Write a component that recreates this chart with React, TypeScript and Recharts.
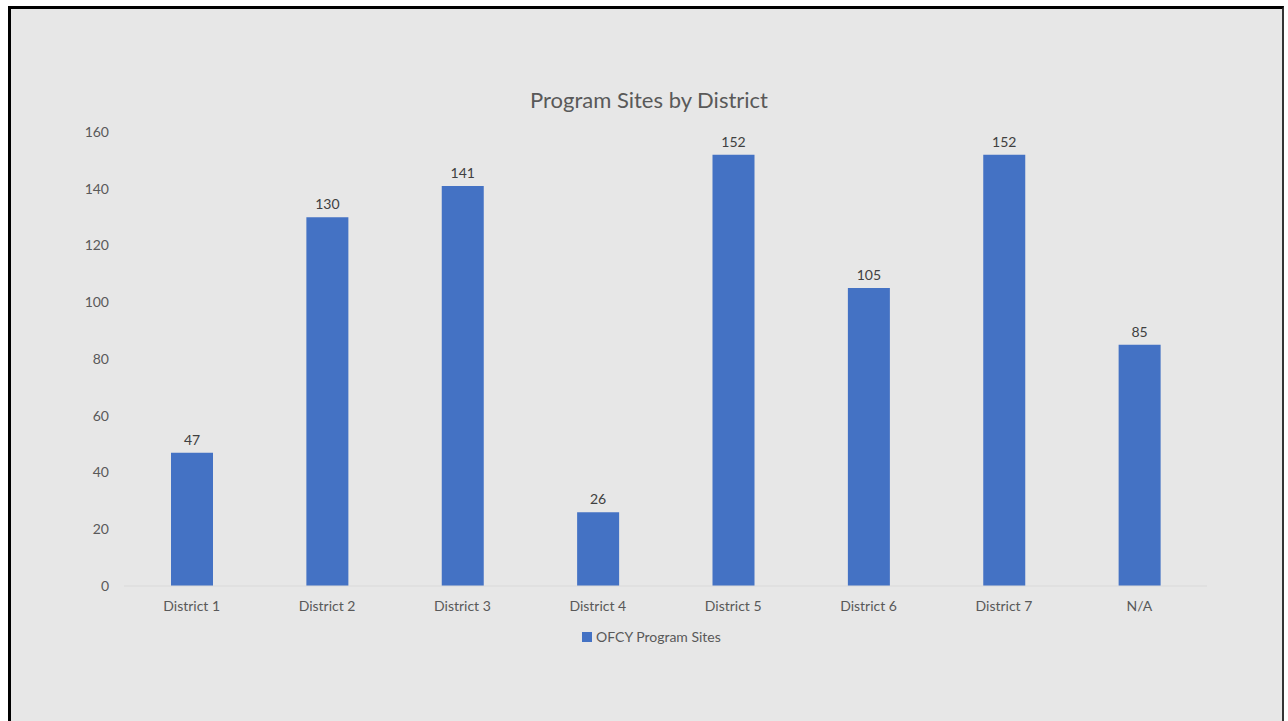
import React from "react";
import { BarChart, Bar, XAxis, YAxis, Legend, LabelList } from "recharts";

const categories = ["District 1", "District 2", "District 3", "District 4", "District 5", "District 6", "District 7", "N/A"];
const sites = [47, 130, 141, 26, 152, 105, 152, 85];
const yTicks = [0, 20, 40, 60, 80, 100, 120, 140, 160];

const data = categories.map((c, i) => ({ name: c, value: sites[i] }));

const FONT = "Lato, 'Open Sans', sans-serif";
const BLUE = "#4472C4";

const LegendContent = () => (
  <div style={{ display: "flex", alignItems: "center", fontFamily: FONT, fontSize: 14, color: "#595959" }}>
    <span style={{ display: "inline-block", width: 10, height: 10, background: BLUE, marginRight: 4 }} />
    <span>OFCY Program Sites</span>
  </div>
);

export default function App() {
  return (
    <div style={{ position: "absolute", left: 0, top: 0, width: 1288, height: 721, background: "#ffffff", overflow: "hidden" }}>
      <div
        style={{
          position: "absolute",
          left: 8,
          top: 6,
          width: 1276,
          height: 740,
          background: "#e7e7e7",
          borderLeft: "3px solid #000",
          borderTop: "3px solid #000",
          borderRight: "2px solid #333",
          boxSizing: "border-box",
        }}
      />
      <div
        style={{
          position: "absolute",
          left: 0,
          top: 86,
          width: 1298,
          textAlign: "center",
          fontFamily: FONT,
          fontSize: 22,
          color: "#595959",
        }}
      >
        Program Sites by District
      </div>
      <div style={{ position: "absolute", left: 0, top: 0 }}>
        <BarChart width={1288} height={721} data={data} margin={{ top: 132, right: 81, left: 64, bottom: 88 }}>
          <XAxis
            dataKey="name"
            tickLine={false}
            tickSize={0}
            tickMargin={15}
            axisLine={{ stroke: "#d9d9d9" }}
            tick={{ fill: "#595959", fontSize: 14, fontFamily: FONT }}
            height={30}
            interval={0}
          />
          <YAxis
            domain={[0, 160]}
            ticks={yTicks}
            width={60}
            tickLine={false}
            tickSize={0}
            tickMargin={15}
            axisLine={false}
            tick={{ fill: "#595959", fontSize: 14, fontFamily: FONT }}
          />
          <Legend
            content={<LegendContent />}
            wrapperStyle={{ position: "absolute", left: 582, top: 628, width: "auto" }}
          />
          <Bar dataKey="value" name="OFCY Program Sites" fill={BLUE} barSize={42} isAnimationActive={false}>
            <LabelList dataKey="value" position="top" offset={8} fill="#404040" fontSize={14} fontFamily={FONT} />
          </Bar>
        </BarChart>
      </div>
    </div>
  );
}
